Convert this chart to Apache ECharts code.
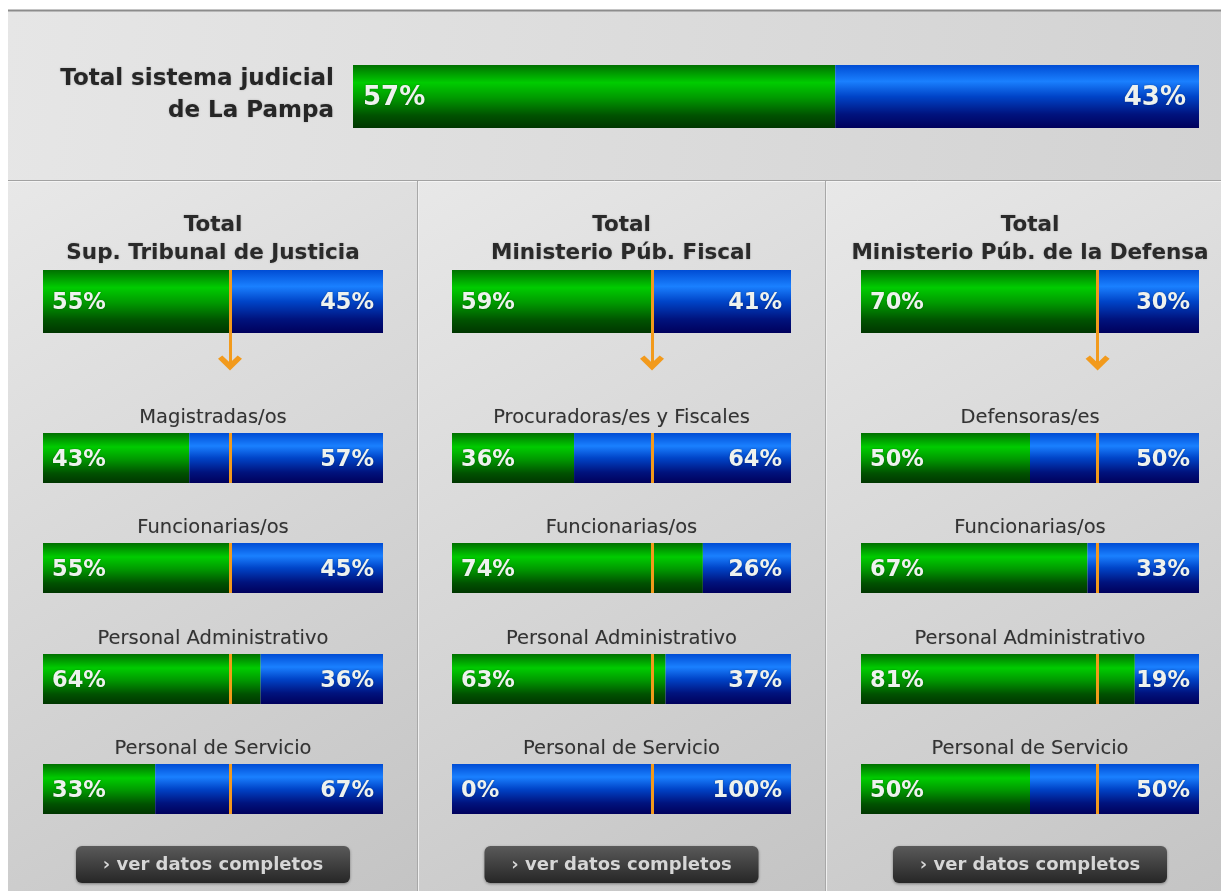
<!DOCTYPE html>
<html><head><meta charset="utf-8">
<script src="https://cdn.jsdelivr.net/npm/echarts@6/dist/echarts.min.js"></script>
<style>html,body{margin:0;padding:0;background:#fff}#c{width:1221px;height:891px}</style>
</head><body><div id="c"></div>
<script>
// ---- data ----
const overallTitle = "Total sistema judicial\nde La Pampa";
const overallMujeres = 57;
const overallVarones = 43;
const panelTitles = ["Sup. Tribunal de Justicia", "Ministerio Púb. Fiscal", "Ministerio Púb. de la Defensa"];
const panelTotalMujeres = [55, 59, 70];
const panelTotalVarones = [45, 41, 30];
const stjCategories = ["Magistradas/os", "Funcionarias/os", "Personal Administrativo", "Personal de Servicio"];
const stjMujeres = [43, 55, 64, 33];
const stjVarones = [57, 45, 36, 67];
const mpfCategories = ["Procuradoras/es y Fiscales", "Funcionarias/os", "Personal Administrativo", "Personal de Servicio"];
const mpfMujeres = [36, 74, 63, 0];
const mpfVarones = [64, 26, 37, 100];
const mpdCategories = ["Defensoras/es", "Funcionarias/os", "Personal Administrativo", "Personal de Servicio"];
const mpdMujeres = [50, 67, 81, 50];
const mpdVarones = [50, 33, 19, 50];
const buttonText = "› ver datos completos";

// ---- layout / style ----
const FONT = "'DejaVu Sans', Verdana, sans-serif";
const panelCats = [stjCategories, mpfCategories, mpdCategories];
const panelF = [stjMujeres, mpfMujeres, mpdMujeres];
const panelM = [stjVarones, mpfVarones, mpdVarones];
const panelX = [[43, 383], [452, 791], [861, 1199]];
const subTops = [433, 543, 654, 764];
const SUBH = 50;
const ORANGE = '#f29a1c';

function greenGrad() {
  return new echarts.graphic.LinearGradient(0, 0, 0, 1, [
    {offset: 0, color: '#007000'}, {offset: 0.28, color: '#00cc00'},
    {offset: 0.52, color: '#009a00'}, {offset: 0.8, color: '#005200'}, {offset: 1, color: '#003600'}]);
}
function blueGrad() {
  return new echarts.graphic.LinearGradient(0, 0, 0, 1, [
    {offset: 0, color: '#004cd4'}, {offset: 0.26, color: '#1a80ff'},
    {offset: 0.5, color: '#0044c8'}, {offset: 0.78, color: '#00137e'}, {offset: 1, color: '#00005c'}]);
}

const grids = [], xAxes = [], yAxes = [], series = [], graphics = [];

function addBar(left, top, width, height, f, m, fs, dist, markValue) {
  const gi = grids.length;
  grids.push({left: left, top: top, width: width, height: height, containLabel: false});
  xAxes.push({type: 'value', gridIndex: gi, min: 0, max: 100, show: false});
  yAxes.push({type: 'category', gridIndex: gi, data: ['v'], show: false});
  const lab = (pos, d) => ({
    show: true, position: pos, distance: d, fontFamily: FONT, fontWeight: 'bold', fontSize: fs,
    color: '#eef2ee', formatter: p => p.value + '%', offset: [0, 2],
    textShadowColor: 'rgba(0,0,0,0.35)', textShadowBlur: 2
  });
  series.push({type: 'bar', xAxisIndex: gi, yAxisIndex: gi, stack: 's' + gi, data: [f], barWidth: '100%',
    itemStyle: {color: greenGrad()}, label: lab('insideLeft', dist[0]), silent: true});
  const blue = {type: 'bar', xAxisIndex: gi, yAxisIndex: gi, stack: 's' + gi, data: [m], barWidth: '100%',
    itemStyle: {color: blueGrad()}, label: lab('insideRight', dist[1]), silent: true};
  if (markValue !== undefined) {
    blue.markLine = {silent: true, symbol: ['none', 'none'], label: {show: false}, z: 10,
      lineStyle: {color: ORANGE, width: 3, type: 'solid'}, emphasis: {disabled: true},
      data: [{xAxis: markValue}]};
  }
  series.push(blue);
}

function addArrow(left, top, width, height, value) {
  const gi = grids.length;
  grids.push({left: left, top: top, width: width, height: height});
  xAxes.push({type: 'value', gridIndex: gi, min: 0, max: 100, show: false});
  yAxes.push({type: 'value', gridIndex: gi, min: 0, max: 1, show: false});
  series.push({type: 'scatter', xAxisIndex: gi, yAxisIndex: gi, data: [], silent: true,
    markLine: {silent: true, label: {show: false}, emphasis: {disabled: true},
      symbol: ['none', 'path://M5,10 L10,3.4 L8.2,1.6 L5,5.6 L1.8,1.6 L0,3.4 Z'], symbolSize: [24, 15],
      symbolRotate: 0,
      lineStyle: {color: ORANGE, width: 3, type: 'solid'},
      itemStyle: {color: ORANGE},
      data: [[{coord: [value, 1]}, {coord: [value, 0]}]]}});
}

// ---- background ----
graphics.push({type: 'rect', shape: {x: 8, y: 10, width: 1213, height: 170},
  style: {fill: new echarts.graphic.LinearGradient(0, 0, 1, 1, [{offset: 0, color: '#e6e6e6'}, {offset: 1, color: '#d2d2d2'}])}});
const panelBg = [[8, 418], [418, 826], [826, 1221]];
panelBg.forEach(p => {
  graphics.push({type: 'rect', shape: {x: p[0], y: 180, width: p[1] - p[0], height: 711},
    style: {fill: new echarts.graphic.LinearGradient(0, 0, 1, 1, [{offset: 0, color: '#e8e8e8'}, {offset: 1, color: '#c4c4c4'}])}});
});
graphics.push({type: 'line', shape: {x1: 8, y1: 10.5, x2: 1221, y2: 10.5}, style: {stroke: '#8c8c8c', lineWidth: 2}});
graphics.push({type: 'line', shape: {x1: 8, y1: 180.5, x2: 1221, y2: 180.5}, style: {stroke: '#a2a2a2', lineWidth: 1}});
graphics.push({type: 'line', shape: {x1: 8, y1: 181.5, x2: 1221, y2: 181.5}, style: {stroke: '#f4f4f4', lineWidth: 1}});
[417.5, 825.5].forEach(x => {
  graphics.push({type: 'line', shape: {x1: x, y1: 181, x2: x, y2: 891}, style: {stroke: '#a8a8a8', lineWidth: 1}});
  graphics.push({type: 'line', shape: {x1: x + 1, y1: 181, x2: x + 1, y2: 891}, style: {stroke: '#f0f0f0', lineWidth: 1}});
});

// ---- top overall ----
graphics.push({type: 'text', x: 334, y: 95, style: {text: overallTitle, fontFamily: FONT, fontWeight: 'bold', fontSize: 23,
  lineHeight: 32, fill: '#262626', align: 'right', verticalAlign: 'middle',
  textShadowColor: 'rgba(0,0,0,0.25)', textShadowBlur: 2}});
addBar(353, 65, 846, 63, overallMujeres, overallVarones, 26, [10, 13]);

// ---- panels ----
for (let p = 0; p < 3; p++) {
  const x0 = panelX[p][0], x1 = panelX[p][1], w = x1 - x0, cx = (x0 + x1) / 2;
  graphics.push({type: 'text', x: cx, y: 239, style: {text: 'Total\n' + panelTitles[p], fontFamily: FONT, fontWeight: 'bold',
    fontSize: 21.5, lineHeight: 28, fill: '#2a2a2a', align: 'center', verticalAlign: 'middle',
    textShadowColor: 'rgba(0,0,0,0.25)', textShadowBlur: 2}});
  addBar(x0, 270, w, 63, panelTotalMujeres[p], panelTotalVarones[p], 22.5, [9, 9], panelTotalMujeres[p]);
  addArrow(x0, 333, w, 30, panelTotalMujeres[p]);
  for (let i = 0; i < 4; i++) {
    graphics.push({type: 'text', x: cx, y: subTops[i] - 15, style: {text: panelCats[p][i], fontFamily: FONT,
      fontSize: 19.5, fill: '#333333', align: 'center', verticalAlign: 'middle',
      textShadowColor: 'rgba(0,0,0,0.2)', textShadowBlur: 1}});
    addBar(x0, subTops[i], w, SUBH, panelF[p][i], panelM[p][i], 22.5, [9, 9], panelTotalMujeres[p]);
  }
  // button
  const bw = 274, bx = cx - bw / 2;
  graphics.push({type: 'rect', shape: {x: bx, y: 846, width: bw, height: 37, r: 6},
    style: {fill: new echarts.graphic.LinearGradient(0, 0, 0, 1, [{offset: 0, color: '#5a5a5a'}, {offset: 1, color: '#262626'}]),
      shadowColor: 'rgba(0,0,0,0.4)', shadowBlur: 3, shadowOffsetY: 1}});
  graphics.push({type: 'text', x: cx, y: 865, style: {text: buttonText, fontFamily: FONT, fontWeight: 'bold', fontSize: 18,
    fill: '#d6d6d6', align: 'center', verticalAlign: 'middle'}});
}

const chart = echarts.init(document.getElementById('c'), null, {renderer: 'canvas'});
chart.setOption({
  animation: false,
  backgroundColor: '#ffffff',
  grid: grids, xAxis: xAxes, yAxis: yAxes, series: series,
  graphic: {elements: graphics}
});
</script></body></html>
